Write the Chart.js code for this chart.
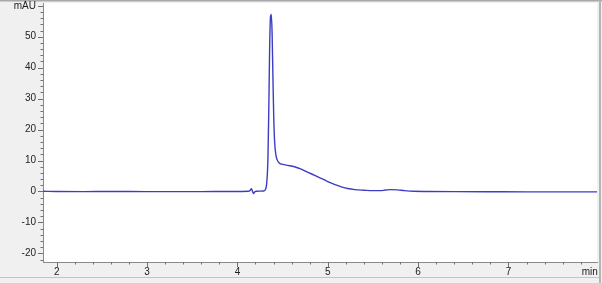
<!DOCTYPE html>
<html>
<head>
<meta charset="utf-8">
<script src="https://cdn.jsdelivr.net/npm/chart.js@4/dist/chart.umd.min.js"></script>
<style>
html,body{margin:0;padding:0;background:#f0f0f0;}
#wrap{position:relative;width:602px;height:283px;}
</style>
</head>
<body>
<div id="wrap"><canvas id="c" width="602" height="283"></canvas></div>
<script>
// Retention time (min)
const times = [1.85, 2.0, 2.3, 2.6, 3.0, 3.3, 3.6, 3.9, 4.05, 4.12, 4.14, 4.155, 4.165, 4.178, 4.19, 4.21, 4.25, 4.29, 4.31, 4.325, 4.338, 4.348, 4.357, 4.366, 4.375, 4.384, 4.393, 4.402, 4.412, 4.425, 4.44, 4.46, 4.49, 4.53, 4.58, 4.64, 4.70, 4.77, 4.85, 4.92, 5.00, 5.08, 5.15, 5.22, 5.30, 5.40, 5.50, 5.58, 5.64, 5.70, 5.77, 5.85, 5.95, 6.1, 6.4, 6.8, 7.2, 7.6, 7.98];
// Absorbance (mAU)
const absorbance = [0.05, 0.0, -0.05, 0.0, -0.05, -0.05, -0.05, 0.0, 0.0, 0.05, 0.3, 0.9, 0.2, -0.7, -0.2, 0.05, 0.1, 0.15, 0.6, 3.0, 11, 28, 47, 56.5, 57.2, 51, 37, 24, 16, 12, 10.2, 9.3, 8.8, 8.6, 8.3, 7.9, 7.3, 6.3, 5.3, 4.3, 3.2, 2.2, 1.5, 0.95, 0.6, 0.4, 0.25, 0.25, 0.45, 0.6, 0.5, 0.25, 0.05, 0.0, -0.05, -0.1, -0.15, -0.15, -0.15];
// Axis labels
const xTickValues = [2, 3, 4, 5, 6, 7];
const xUnitLabel = 'min';
const yTickValues = [-20, -10, 0, 10, 20, 30, 40, 50];
const yUnitLabel = 'mAU';

const X_MIN = 1.848, X_MAX = 7.98, Y_MIN = -22.8, Y_MAX = 60.9;
const X_UNIT_POS = 7.9, Y_UNIT_POS = 59.8;

const points = times.map((t, i) => ({x: t, y: absorbance[i]}));

const frame = {
  id: 'frame',
  beforeDraw(chart) {
    const {ctx, chartArea: a} = chart;
    ctx.save();
    ctx.fillStyle = '#f0f0f0';
    ctx.fillRect(0, 0, chart.width, chart.height);
    ctx.fillStyle = '#ffffff';
    ctx.fillRect(a.left, a.top, a.right - a.left, a.bottom - a.top);
    ctx.fillStyle = '#a8a8a8';
    ctx.fillRect(0, 0, chart.width, 1.5);
    ctx.fillStyle = '#b4b4b4';
    ctx.fillRect(599, 0, 2, chart.height);
    ctx.fillStyle = '#c4c4c4';
    ctx.fillRect(0, 277, 599, 1);
    ctx.restore();
  },
  afterDraw(chart) {
    const {ctx, chartArea: a, scales: {x, y}} = chart;
    ctx.save();
    ctx.strokeStyle = '#707070';
    ctx.lineWidth = 1;
    ctx.beginPath();
    for (let v = -22; v <= 60; v += 2) {
      const py = Math.round(y.getPixelForValue(v)) + 0.5;
      const len = v % 10 === 0 ? 5 : 2.5;
      ctx.moveTo(a.left - len, py);
      ctx.lineTo(a.left, py);
    }
    for (let k = 10; k <= 39; k++) {
      const px = Math.round(x.getPixelForValue(k / 5)) + 0.5;
      const len = k % 5 === 0 ? 5 : 2.5;
      ctx.moveTo(px, a.bottom);
      ctx.lineTo(px, a.bottom + len);
    }
    ctx.stroke();
    ctx.restore();
  }
};

new Chart(document.getElementById('c'), {
  type: 'line',
  data: {
    datasets: [{
      data: points,
      borderColor: '#3d3dc4',
      borderWidth: 1.4,
      pointRadius: 0,
      fill: false,
      cubicInterpolationMode: 'monotone'
    }]
  },
  options: {
    responsive: false,
    animation: false,
    devicePixelRatio: 1,
    layout: {padding: {top: 3, right: 5, bottom: 0, left: 0}},
    plugins: {legend: {display: false}, tooltip: {enabled: false}},
    scales: {
      x: {
        type: 'linear',
        min: X_MIN, max: X_MAX,
        afterBuildTicks: s => { s.ticks = xTickValues.concat([X_UNIT_POS]).map(v => ({value: v})); },
        afterFit: s => { s.height = 21; s.paddingLeft = 0; s.paddingRight = 0; },
        grid: {display: false, drawTicks: false, tickLength: 0},
        border: {display: true, color: '#8a8a8a', width: 1},
        ticks: {
          autoSkip: false, maxRotation: 0, padding: 4,
          color: '#222', font: {family: 'Liberation Sans, Arial', size: 10},
          callback: v => v === X_UNIT_POS ? xUnitLabel : String(v)
        }
      },
      y: {
        type: 'linear',
        min: Y_MIN, max: Y_MAX,
        afterBuildTicks: s => { s.ticks = yTickValues.concat([Y_UNIT_POS]).map(v => ({value: v})); },
        afterFit: s => { s.width = 43; s.paddingTop = 0; s.paddingBottom = 0; },
        grid: {display: false, drawTicks: false, tickLength: 0},
        border: {display: true, color: '#8a8a8a', width: 1},
        ticks: {
          autoSkip: false, padding: 7,
          color: '#222', font: {family: 'Liberation Sans, Arial', size: 10},
          callback: v => v === Y_UNIT_POS ? yUnitLabel : String(v)
        }
      }
    }
  },
  plugins: [frame]
});
</script>
</body>
</html>
